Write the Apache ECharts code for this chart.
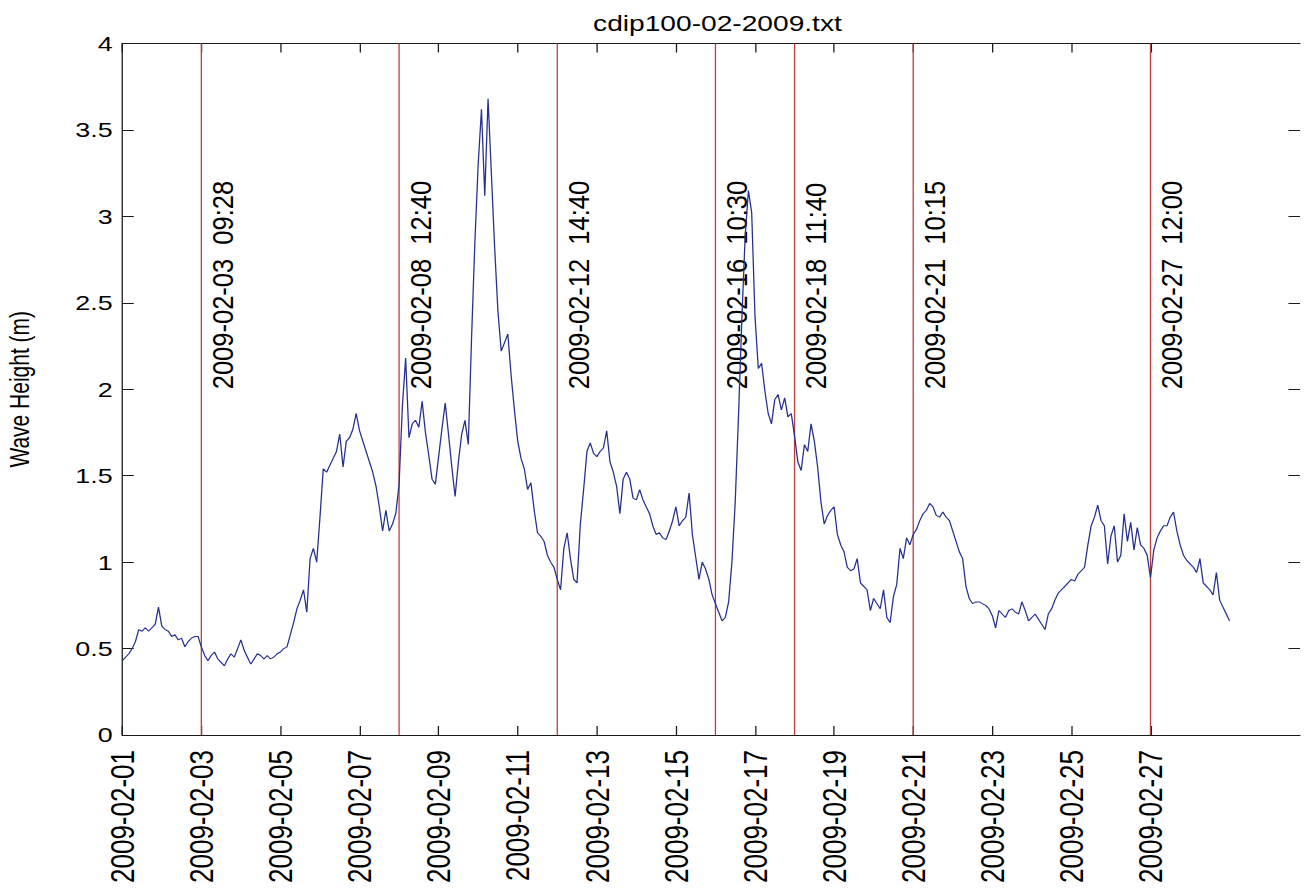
<!DOCTYPE html>
<html>
<head>
<meta charset="utf-8">
<title>cdip100-02-2009.txt</title>
<script src="https://cdn.jsdelivr.net/npm/echarts@6/dist/echarts.min.js"></script>
<style>
  html, body { margin: 0; padding: 0; background: #fff; overflow: hidden; }
  /* the figure is laid out narrower and widened horizontally, like the exported plot */
  #chart { width: 1025px; height: 894px; transform: scaleX(1.28); transform-origin: 0 0; }
</style>
</head>
<body>
<div id="chart"></div>
<script>
// Significant wave height (m), sampled every 2 hours from 2009-02-01 00:00 UTC
const sampleHours = 2;

const week1 = [
  0.43, 0.45, 0.47, 0.50, 0.54, 0.61, 0.60, 0.62, 0.60, 0.62, 0.64, 0.74, // 02-01
  0.63, 0.61, 0.60, 0.57, 0.58, 0.55, 0.56, 0.51, 0.54, 0.56, 0.57, 0.57, // 02-02
  0.51, 0.46, 0.43, 0.46, 0.48, 0.44, 0.42, 0.40, 0.44, 0.47, 0.45, 0.50, // 02-03
  0.55, 0.49, 0.45, 0.41, 0.44, 0.47, 0.46, 0.44, 0.46, 0.44, 0.45, 0.47, // 02-04
  0.48, 0.50, 0.51, 0.58, 0.65, 0.73, 0.78, 0.84, 0.71, 1.02, 1.08, 1.00, // 02-05
  1.26, 1.54, 1.52, 1.56, 1.60, 1.64, 1.74, 1.55, 1.70, 1.72, 1.77, 1.86, // 02-06
  1.76, 1.70, 1.64, 1.58, 1.52, 1.44, 1.32, 1.18, 1.30, 1.18, 1.22, 1.28  // 02-07
];
const week2 = [
  1.45, 1.90, 2.18, 1.72, 1.80, 1.82, 1.78, 1.93, 1.75, 1.62, 1.48, 1.45, // 02-08
  1.61, 1.77, 1.92, 1.74, 1.55, 1.38, 1.58, 1.74, 1.82, 1.68, 2.30, 2.85, // 02-09
  3.30, 3.62, 3.12, 3.68, 3.25, 2.82, 2.45, 2.22, 2.27, 2.32, 2.08, 1.88, // 02-10
  1.70, 1.60, 1.54, 1.42, 1.46, 1.30, 1.17, 1.15, 1.12, 1.04, 1.00, 0.97, // 02-11
  0.90, 0.84, 1.08, 1.17, 1.02, 0.90, 0.88, 1.22, 1.42, 1.64, 1.69, 1.63, // 02-12
  1.61, 1.64, 1.66, 1.76, 1.58, 1.52, 1.44, 1.28, 1.48, 1.52, 1.48, 1.37, // 02-13
  1.36, 1.42, 1.36, 1.32, 1.28, 1.21, 1.16, 1.17, 1.14, 1.13, 1.18, 1.24  // 02-14
];
const week3 = [
  1.32, 1.21, 1.24, 1.26, 1.40, 1.16, 1.03, 0.90, 1.00, 0.96, 0.90, 0.81, // 02-15
  0.76, 0.71, 0.66, 0.68, 0.77, 1.00, 1.35, 1.85, 2.40, 2.88, 3.15, 3.02, // 02-16
  2.42, 2.12, 2.15, 1.99, 1.86, 1.80, 1.94, 1.97, 1.88, 1.95, 1.84, 1.86, // 02-17
  1.73, 1.58, 1.53, 1.68, 1.64, 1.80, 1.70, 1.55, 1.35, 1.22, 1.27, 1.30, // 02-18
  1.32, 1.16, 1.10, 1.06, 0.97, 0.95, 0.96, 1.02, 0.88, 0.86, 0.84, 0.72, // 02-19
  0.79, 0.76, 0.73, 0.84, 0.68, 0.65, 0.80, 0.87, 1.08, 1.02, 1.14, 1.10, // 02-20
  1.16, 1.19, 1.24, 1.28, 1.30, 1.34, 1.32, 1.27, 1.26, 1.29, 1.26, 1.24  // 02-21
];
const week4 = [
  1.18, 1.12, 1.06, 1.02, 0.86, 0.79, 0.76, 0.77, 0.77, 0.76, 0.75, 0.73, // 02-22
  0.69, 0.62, 0.72, 0.70, 0.68, 0.72, 0.73, 0.71, 0.70, 0.77, 0.72, 0.66, // 02-23
  0.68, 0.70, 0.67, 0.64, 0.61, 0.70, 0.73, 0.78, 0.82, 0.84, 0.86, 0.88, // 02-24
  0.90, 0.89, 0.93, 0.95, 0.97, 1.10, 1.21, 1.26, 1.33, 1.24, 1.21, 0.99, // 02-25
  1.15, 1.21, 1.00, 1.04, 1.28, 1.12, 1.23, 1.07, 1.20, 1.10, 1.08, 1.04, // 02-26
  0.91, 1.07, 1.14, 1.18, 1.21, 1.21, 1.26, 1.29, 1.18, 1.10, 1.04, 1.01, // 02-27
  0.99, 0.97, 0.94, 1.02, 0.88, 0.86, 0.84, 0.81, 0.94, 0.78, 0.74, 0.70, // 02-28
  0.66
];

// Date ticks along the time axis
const xTickLabels = [
  '2009-02-01', '2009-02-03', '2009-02-05', '2009-02-07', '2009-02-09',
  '2009-02-11', '2009-02-13', '2009-02-15', '2009-02-17', '2009-02-19',
  '2009-02-21', '2009-02-23', '2009-02-25', '2009-02-27'
];

// Marked events: day of the marker line and the time written next to it
const eventDays  = ['2009-02-03', '2009-02-08', '2009-02-12', '2009-02-16', '2009-02-18', '2009-02-21', '2009-02-27'];
const eventTimes = ['09:28', '12:40', '14:40', '10:30', '11:40', '10:15', '12:00'];

const yMin = 0, yMax = 4, yStep = 0.5;
const eventLabelLevel = 2.0;   // wave height where the event captions start
const axisSpanDays = 29.78;

// ---------------------------------------------------------------
const HOUR = 3600000, DAY = 24 * HOUR;
function parseDay(s) {
  const p = s.split('-').map(Number);
  return Date.UTC(p[0], p[1] - 1, p[2]);
}
function fmtDay(ms) {
  const d = new Date(ms);
  const mm = String(d.getUTCMonth() + 1).padStart(2, '0');
  const dd = String(d.getUTCDate()).padStart(2, '0');
  return d.getUTCFullYear() + '-' + mm + '-' + dd;
}

const t0 = parseDay(xTickLabels[0]);
const xMax = t0 + axisSpanDays * DAY;
const xTicks = xTickLabels.map(parseDay);
const heights = [].concat(week1, week2, week3, week4);
const seriesData = heights.map((v, i) => [t0 + i * sampleHours * HOUR, v]);
const eventData = eventDays.map(d => [parseDay(d)]);

const FONT = '"Liberation Sans", Arial, Helvetica, sans-serif';
const AXIS_COLOR = '#1a1a1a';
const LINE_COLOR = '#26308f';
const EVENT_COLOR = '#bf3a3c';

const tickStyle = { show: true, inside: true, length: 9, lineStyle: { color: AXIS_COLOR, width: 1 } };

const chart = echarts.init(document.getElementById('chart'), null, { renderer: 'svg' });

const option = {
  animation: false,
  backgroundColor: '#ffffff',
  title: {
    text: 'cdip100-02-2009.txt',
    left: 555.5,
    top: 7,
    textAlign: 'center',
    textStyle: { fontFamily: FONT, fontSize: 22, fontWeight: 'normal', color: '#000' }
  },
  grid: { left: 95.5, right: 9.4, top: 43.5, bottom: 159, outerBoundsMode: 'none', containLabel: false },
  xAxis: [
    {
      type: 'value',
      position: 'bottom',
      min: t0,
      max: xMax,
      axisLine: { show: true, onZero: false, lineStyle: { color: AXIS_COLOR, width: 1 } },
      axisTick: Object.assign({ customValues: xTicks }, tickStyle),
      axisLabel: {
        show: true,
        customValues: xTicks,
        rotate: 90,
        margin: 15,
        fontFamily: FONT,
        fontSize: 26,
        color: '#000',
        formatter: v => fmtDay(v)
      },
      splitLine: { show: false }
    },
    {
      type: 'value',
      position: 'top',
      min: t0,
      max: xMax,
      axisLine: { show: true, onZero: false, lineStyle: { color: AXIS_COLOR, width: 1 } },
      axisTick: Object.assign({ customValues: xTicks }, tickStyle),
      axisLabel: { show: false },
      splitLine: { show: false }
    }
  ],
  yAxis: [
    {
      type: 'value',
      position: 'left',
      min: yMin,
      max: yMax,
      interval: yStep,
      name: 'Wave Height (m)',
      nameLocation: 'middle',
      nameGap: 70,
      nameTextStyle: { fontFamily: FONT, fontSize: 21, color: '#000' },
      axisLine: { show: true, onZero: false, lineStyle: { color: AXIS_COLOR, width: 1 } },
      axisTick: tickStyle,
      axisLabel: { fontFamily: FONT, fontSize: 21, color: '#000', margin: 7.5 },
      splitLine: { show: false }
    },
    {
      type: 'value',
      position: 'right',
      min: yMin,
      max: yMax,
      interval: yStep,
      axisLine: { show: false, onZero: false },
      axisTick: tickStyle,
      axisLabel: { show: false },
      splitLine: { show: false }
    }
  ],
  series: [
    {
      name: 'events',
      type: 'custom',
      xAxisIndex: 0,
      yAxisIndex: 0,
      z: 1,
      silent: true,
      data: eventData,
      renderItem: function (params, api) {
        const t = api.value(0);
        const bottom = api.coord([t, yMin]);
        const top = api.coord([t, yMax]);
        const anchor = api.coord([t, eventLabelLevel]);
        const i = params.dataIndex;
        return {
          type: 'group',
          children: [
            {
              type: 'line',
              shape: { x1: bottom[0], y1: bottom[1], x2: top[0], y2: top[1] },
              style: { stroke: EVENT_COLOR, lineWidth: 1 }
            },
            {
              type: 'text',
              x: anchor[0] + 5,
              y: anchor[1],
              rotation: Math.PI / 2,
              scaleY: 0.9,
              style: {
                text: eventDays[i] + '  ' + eventTimes[i],
                fontFamily: FONT,
                fontSize: 25.5,
                fill: '#000',
                align: 'left',
                verticalAlign: 'top'
              }
            }
          ]
        };
      }
    },
    {
      name: 'Wave Height',
      type: 'line',
      xAxisIndex: 0,
      yAxisIndex: 0,
      z: 2,
      data: seriesData,
      showSymbol: false,
      symbol: 'none',
      smooth: false,
      lineStyle: { color: LINE_COLOR, width: 1 }
    }
  ]
};

chart.setOption(option);
</script>
</body>
</html>
